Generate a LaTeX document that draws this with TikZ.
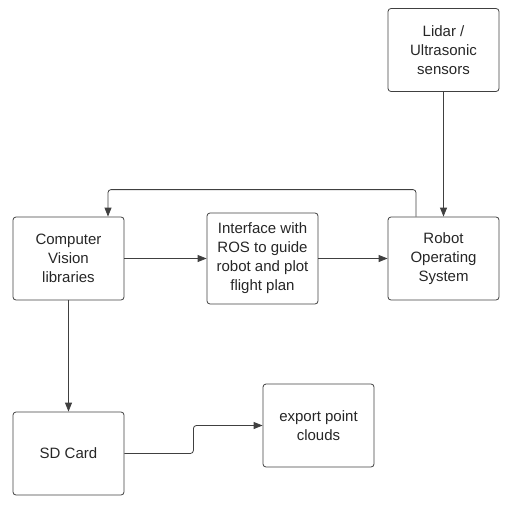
\documentclass[tikz,border=0pt]{standalone}
\usepackage{fontspec}
\setmainfont{Liberation Sans}
\usetikzlibrary{arrows.meta}
\begin{document}
\begin{tikzpicture}[x=1pt, y=-1pt,
		block/.style={draw=black!75, rounded corners=3pt, line width=0.8pt, minimum width=111pt, minimum height=83pt, inner sep=0pt, align=center, text=black!85, font=\fontsize{15}{19}\selectfont},
		link/.style={draw=black!75, line width=0.8pt, rounded corners=3pt, -{Triangle[length=9pt, width=7pt]}}]
			\useasboundingbox (0,0) rectangle (510,505);
			\node[block] (lidar) at (443.5,50) {Lidar /\\Ultrasonic\\sensors};
			\node[block] (cv) at (68.5,258.5) {Computer\\Vision\\libraries};
			\node[block, minimum height=91pt] (iface) at (262.5,258.5) {Interface with\\ROS to guide\\robot and plot\\flight plan};
			\node[block] (ros) at (443.5,258.5) {Robot\\Operating\\System};
			\node[block] (sd) at (68.5,453.5) {SD Card};
			\node[block] (export) at (318.5,425.5) {export point\\clouds};
			\draw[link] (cv.east) -- (iface.west);
			\draw[link] (iface.east) -- (ros.west);
			\draw[link] (lidar.south) -- (ros.north);
			\draw[link] ([xshift=-27.5pt]ros.north) -- ++(0,-27) -| ([xshift=39.5pt]cv.north);
			\draw[link] (cv.south) -- (sd.north);
			\draw[link] (sd.east) -- ++(69,0) |- (export.west);
		\end{tikzpicture}
\end{document}
